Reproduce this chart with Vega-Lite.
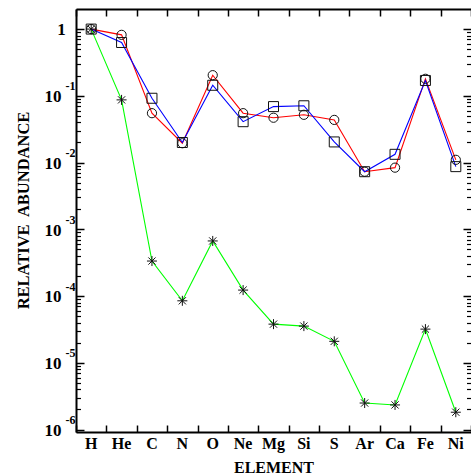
{
  "$schema": "https://vega.github.io/schema/vega-lite/v6.json",
  "autosize": {"type": "none"},
  "padding": {"left": 76, "top": 9, "right": 0, "bottom": 43},
  "width": 395,
  "height": 423,
  "background": "white",
  "config": {"view": {"stroke": null}, "font": "Liberation Serif"},
  "data": {"values": [
    {"el": "H", "s": "circles", "v": 1},
    {"el": "He", "s": "circles", "v": 0.82},
    {"el": "C", "s": "circles", "v": 0.055},
    {"el": "N", "s": "circles", "v": 0.0195},
    {"el": "O", "s": "circles", "v": 0.204},
    {"el": "Ne", "s": "circles", "v": 0.055},
    {"el": "Mg", "s": "circles", "v": 0.047},
    {"el": "Si", "s": "circles", "v": 0.052},
    {"el": "S", "s": "circles", "v": 0.0436},
    {"el": "Ar", "s": "circles", "v": 0.0073},
    {"el": "Ca", "s": "circles", "v": 0.0084},
    {"el": "Fe", "s": "circles", "v": 0.18},
    {"el": "Ni", "s": "circles", "v": 0.011},
    {"el": "H", "s": "squares", "v": 1},
    {"el": "He", "s": "squares", "v": 0.63},
    {"el": "C", "s": "squares", "v": 0.092},
    {"el": "N", "s": "squares", "v": 0.02},
    {"el": "O", "s": "squares", "v": 0.144},
    {"el": "Ne", "s": "squares", "v": 0.041},
    {"el": "Mg", "s": "squares", "v": 0.069},
    {"el": "Si", "s": "squares", "v": 0.071},
    {"el": "S", "s": "squares", "v": 0.0204},
    {"el": "Ar", "s": "squares", "v": 0.0073},
    {"el": "Ca", "s": "squares", "v": 0.0133},
    {"el": "Fe", "s": "squares", "v": 0.17},
    {"el": "Ni", "s": "squares", "v": 0.0087},
    {"el": "H", "s": "stars", "v": 1},
    {"el": "He", "s": "stars", "v": 0.087},
    {"el": "C", "s": "stars", "v": 0.000335},
    {"el": "N", "s": "stars", "v": 0.000085},
    {"el": "O", "s": "stars", "v": 0.00067},
    {"el": "Ne", "s": "stars", "v": 0.000123},
    {"el": "Mg", "s": "stars", "v": 0.000038},
    {"el": "Si", "s": "stars", "v": 0.0000355},
    {"el": "S", "s": "stars", "v": 0.000021},
    {"el": "Ar", "s": "stars", "v": 0.0000025},
    {"el": "Ca", "s": "stars", "v": 0.00000234},
    {"el": "Fe", "s": "stars", "v": 0.000032},
    {"el": "Ni", "s": "stars", "v": 0.00000182}
  ]},
  "resolve": {"axis": {"x": "independent", "y": "independent"}},
  "layer": [
    {
      "mark": {"type": "line", "strokeWidth": 1.1},
      "encoding": {
        "x": {"field": "el", "type": "nominal", "sort": ["H","He","C","N","O","Ne","Mg","Si","S","Ar","Ca","Fe","Ni"],
          "scale": {"type": "band", "paddingInner": 0, "paddingOuter": 0},
          "axis": {"orient": "bottom", "ticks": false, "domain": true, "domainColor": "black", "domainWidth": 2,
            "labelAngle": 0, "labelFont": "Liberation Serif", "labelFontWeight": "bold", "labelFontSize": 16, "labelColor": "black",
            "labelBaseline": "alphabetic", "labelPadding": 16.5,
            "title": "ELEMENT", "titleFont": "Liberation Serif", "titleFontWeight": "bold", "titleFontSize": 16, "titleColor": "black",
            "titleBaseline": "alphabetic", "titleY": 40}},
        "y": {"field": "v", "type": "quantitative", "scale": {"type": "log", "domain": [9.2e-7, 2], "nice": false},
          "axis": {"orient": "left", "values": [1, 0.1, 0.01, 0.001, 0.0001, 0.00001, 0.000001], "ticks": false, "grid": false,
            "domain": true, "domainColor": "black", "domainWidth": 2,
            "labelExpr": "datum.value >= 1 ? '1' : '10'", "labelFont": "Liberation Serif", "labelFontWeight": "bold", "labelFontSize": 17,
            "labelColor": "black", "labelPadding": 15, "labelBaseline": "alphabetic", "labelOffset": 5.7,
            "labelAlign": {"condition": {"test": "datum.value >= 1", "value": "center"}, "value": "right"},
            "labelFlush": false, "labelOverlap": false, "labelBound": false,
            "title": "RELATIVE\u00a0 ABUNDANCE", "titleFont": "Liberation Serif", "titleFontWeight": "bold", "titleFontSize": 16.5,
            "titleColor": "black", "titleX": -53, "titleY": 201, "titleAngle": -90, "titleAlign": "center", "titleBaseline": "middle"}},
        "color": {"field": "s", "type": "nominal", "scale": {"domain": ["circles", "squares", "stars"], "range": ["#ff0000", "#0000ff", "#00ff00"]}, "legend": null},
        "order": {"value": null}
      }
    },
    {
      "transform": [{"filter": "datum.s == 'circles'"}],
      "mark": {"type": "point", "shape": "circle", "filled": false, "stroke": "#111111", "strokeWidth": 1, "size": 85, "opacity": 1},
      "encoding": {
        "x": {"field": "el", "type": "nominal", "sort": ["H","He","C","N","O","Ne","Mg","Si","S","Ar","Ca","Fe","Ni"],
          "axis": {"orient": "bottom", "domain": false, "ticks": true, "tickSize": -7, "tickWidth": 1.5, "tickColor": "black", "tickBand": "extent", "labels": false, "title": null}},
        "y": {"field": "v", "type": "quantitative", "scale": {"type": "log", "domain": [9.2e-7, 2], "nice": false},
          "axis": {"orient": "left", "values": [1, 0.1, 0.01, 0.001, 0.0001, 0.00001, 0.000001], "ticks": false, "domain": false, "grid": false,
            "labelExpr": "datum.value >= 1 ? '' : toString(round(log(datum.value) / LN10))", "labelFont": "Liberation Serif", "labelFontWeight": "bold",
            "labelFontSize": 12, "labelColor": "black", "labelPadding": 1, "labelAlign": "right", "labelBaseline": "alphabetic", "labelOffset": -6,
            "labelFlush": false, "labelOverlap": false, "labelBound": false, "title": null}}
      }
    },
    {
      "transform": [{"filter": "datum.s == 'squares'"}],
      "mark": {"type": "point", "shape": "square", "filled": false, "stroke": "#111111", "strokeWidth": 1, "size": 100, "opacity": 1},
      "encoding": {
        "x": {"field": "el", "type": "nominal", "sort": ["H","He","C","N","O","Ne","Mg","Si","S","Ar","Ca","Fe","Ni"],
          "axis": {"orient": "top", "domain": true, "domainColor": "black", "domainWidth": 2, "ticks": true, "tickSize": -7, "tickWidth": 1.5, "tickColor": "black", "tickBand": "extent", "labels": false, "title": null}},
        "y": {"field": "v", "type": "quantitative", "scale": {"type": "log", "domain": [9.2e-7, 2], "nice": false},
          "axis": {"orient": "left", "values": [1, 0.1, 0.01, 0.001, 0.0001, 0.00001, 0.000001], "domain": false, "grid": false, "labels": false,
            "ticks": true, "tickSize": -8, "tickWidth": 1.5, "tickColor": "black", "title": null}}
      }
    },
    {
      "transform": [{"filter": "datum.s == 'stars'"}],
      "mark": {"type": "point", "shape": "M-1,0L1,0M0,-1L0,1M-0.72,-0.72L0.72,0.72M-0.72,0.72L0.72,-0.72", "filled": false, "stroke": "#111111", "strokeWidth": 1, "size": 100, "opacity": 1},
      "encoding": {
        "x": {"field": "el", "type": "nominal", "sort": ["H","He","C","N","O","Ne","Mg","Si","S","Ar","Ca","Fe","Ni"], "axis": null},
        "y": {"field": "v", "type": "quantitative", "scale": {"type": "log", "domain": [9.2e-7, 2], "nice": false},
          "axis": {"orient": "left", "values": [0.9,0.8,0.7,0.6,0.5,0.4,0.3,0.2,0.09,0.08,0.07,0.06,0.05,0.04,0.03,0.02,0.009,0.008,0.007,0.006,0.005,0.004,0.003,0.002,0.0009,0.0008,0.0007,0.0006,0.0005,0.0004,0.0003,0.0002,0.00009,0.00008,0.00007,0.00006,0.00005,0.00004,0.00003,0.00002,0.000009,0.000008,0.000007,0.000006,0.000005,0.000004,0.000003,0.000002],
            "domain": false, "grid": false, "labels": false, "ticks": true, "tickSize": -4.5, "tickWidth": 1.2, "tickColor": "black", "title": null}}
      }
    },
    {
      "transform": [{"filter": "datum.s == 'stars'"}],
      "mark": {"type": "point", "opacity": 0},
      "encoding": {
        "x": {"field": "el", "type": "nominal", "sort": ["H","He","C","N","O","Ne","Mg","Si","S","Ar","Ca","Fe","Ni"], "axis": null},
        "y": {"field": "v", "type": "quantitative", "scale": {"type": "log", "domain": [9.2e-7, 2], "nice": false},
          "axis": {"orient": "right", "values": [1, 0.1, 0.01, 0.001, 0.0001, 0.00001, 0.000001], "domain": false, "grid": false, "labels": false,
            "ticks": true, "tickSize": -8, "tickWidth": 1.5, "tickColor": "black", "title": null}}
      }
    },
    {
      "transform": [{"filter": "datum.s == 'stars'"}],
      "mark": {"type": "point", "opacity": 0},
      "encoding": {
        "x": {"field": "el", "type": "nominal", "sort": ["H","He","C","N","O","Ne","Mg","Si","S","Ar","Ca","Fe","Ni"], "axis": null},
        "y": {"field": "v", "type": "quantitative", "scale": {"type": "log", "domain": [9.2e-7, 2], "nice": false},
          "axis": {"orient": "right", "values": [0.9,0.8,0.7,0.6,0.5,0.4,0.3,0.2,0.09,0.08,0.07,0.06,0.05,0.04,0.03,0.02,0.009,0.008,0.007,0.006,0.005,0.004,0.003,0.002,0.0009,0.0008,0.0007,0.0006,0.0005,0.0004,0.0003,0.0002,0.00009,0.00008,0.00007,0.00006,0.00005,0.00004,0.00003,0.00002,0.000009,0.000008,0.000007,0.000006,0.000005,0.000004,0.000003,0.000002],
            "domain": false, "grid": false, "labels": false, "ticks": true, "tickSize": -4.5, "tickWidth": 1.2, "tickColor": "black", "title": null}}
      }
    }
  ]
}
